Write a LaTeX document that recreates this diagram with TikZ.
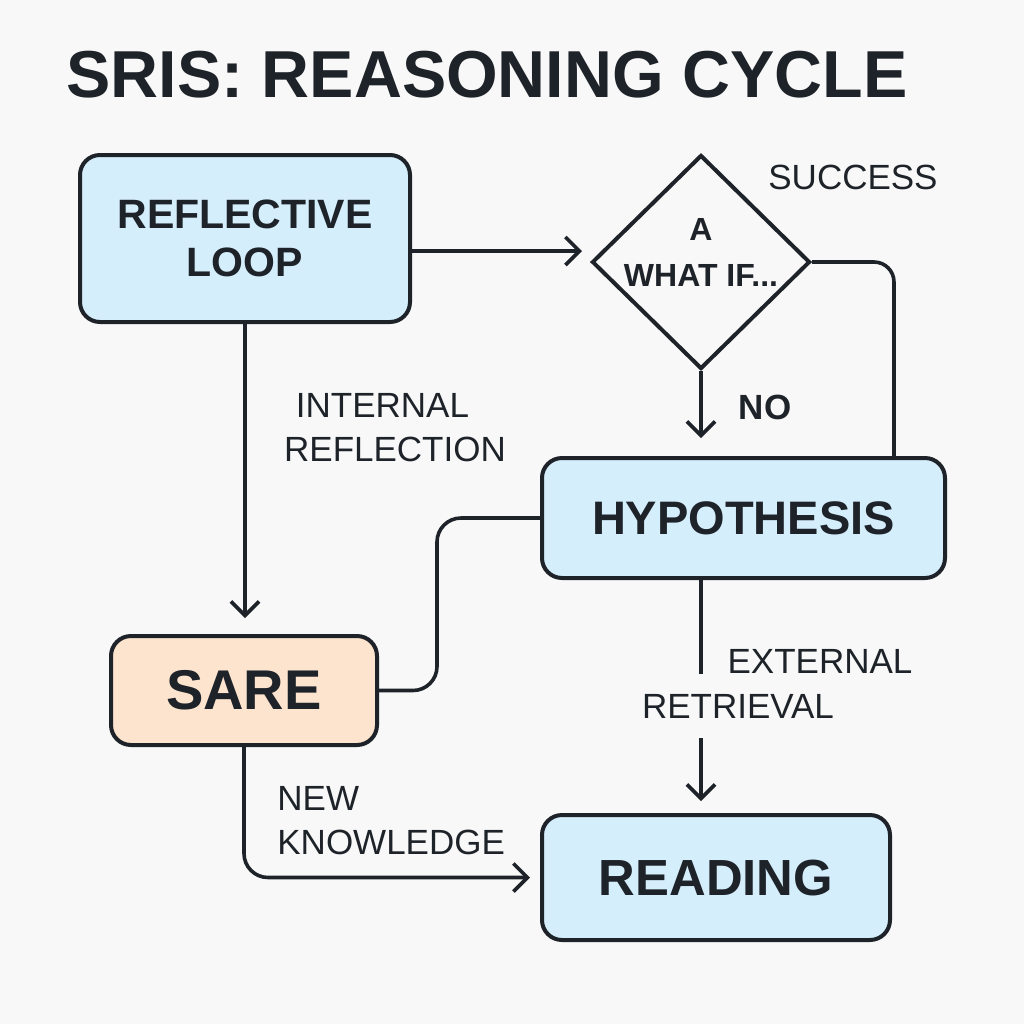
\documentclass[tikz,border=0pt]{standalone}
\usepackage{fontspec}
\setmainfont{Liberation Sans}
\usetikzlibrary{arrows.meta,shapes.geometric,calc}
\definecolor{bg}{HTML}{F8F8F8}
\definecolor{ink}{HTML}{1E2329}
\definecolor{boxblue}{HTML}{D5EEFC}
\definecolor{boxorange}{HTML}{FDE4CE}
\begin{document}
\begin{tikzpicture}[x=0.5pt,y=-0.5pt,
  box/.style={draw=ink, line width=2pt, rounded corners=10pt, align=center, text=ink, inner sep=0pt},
  lbl/.style={text=ink, inner sep=0pt, font=\fontsize{17.5}{22}\selectfont},
  conn/.style={draw=ink, line width=1.8pt},
  arr/.style={conn, -{Straight Barb[length=7pt,width=14pt]}}]
\fill[bg] (0,0) rectangle (1024,1024);
\useasboundingbox (0,0) rectangle (1024,1024);

\node[anchor=base west, font=\fontsize{33.2}{40}\selectfont\bfseries, text=ink, inner sep=0pt] (title) at (66,97) {SRIS: REASONING CYCLE};

\node[box, fill=boxblue, minimum width=165pt, minimum height=83.5pt, font=\fontsize{20.5}{24}\selectfont\bfseries] (rl) at (245,238.5) {REFLECTIVE\\LOOP};
\node[diamond, draw=ink, line width=2pt, minimum width=109pt, minimum height=107pt, inner sep=0pt] (dia) at (701,262) {};
\node[text=ink, inner sep=0pt, align=center, font=\fontsize{16}{23}\selectfont\bfseries] (diat) at (701,252) {A\\WHAT IF...};
\node[box, fill=boxblue, minimum width=201.5pt, minimum height=60pt, font=\fontsize{23.5}{28}\selectfont\bfseries] (hyp) at (743.5,518) {HYPOTHESIS};
\node[box, fill=boxorange, minimum width=133pt, minimum height=54.5pt, font=\fontsize{28}{32}\selectfont\bfseries] (sare) at (244,690.5) {SARE};
\node[box, fill=boxblue, minimum width=174pt, minimum height=62.5pt, font=\fontsize{25.4}{30}\selectfont\bfseries] (read) at (716,877.5) {READING};

\node[lbl] (succ) at (853,177) {SUCCESS};
\node[lbl, font=\fontsize{17.5}{22}\selectfont\bfseries] (no) at (765,407) {NO};
\node[lbl] (int1) at (382.5,405) {INTERNAL};
\node[lbl] (int2) at (395,449) {REFLECTION};
\node[lbl] (ext1) at (820,661) {EXTERNAL};
\node[lbl] (ext2) at (738,706) {RETRIEVAL};
\node[lbl, align=left, anchor=west] (nk) at (277,821) {NEW\\KNOWLEDGE};

\coordinate (t1) at (582,251);
\draw[arr] (rl.east |- t1) -- (t1);
\draw[conn, rounded corners=10pt] (dia.east) -| ($(hyp.north east)+(-53,0)$);
\draw[arr, shorten >=9pt] (dia.south) -- (dia.south |- hyp.north);
\coordinate (m1) at (437,0);
\draw[conn, rounded corners=12pt] (hyp.west) -| (m1 |- sare.east) -- (sare.east);
\draw[arr, shorten >=8pt] (rl.south) -- (rl.south |- sare.north);
\coordinate (e1) at (701,674);
\coordinate (e2) at (701,738);
\draw[conn] (e1 |- hyp.south) -- (e1);
\draw[arr, shorten >=6pt] (e2) -- (e2 |- read.north);
\draw[arr, rounded corners=12pt, shorten >=5pt] (sare.south) |- (read.west);
\end{tikzpicture}
\end{document}
